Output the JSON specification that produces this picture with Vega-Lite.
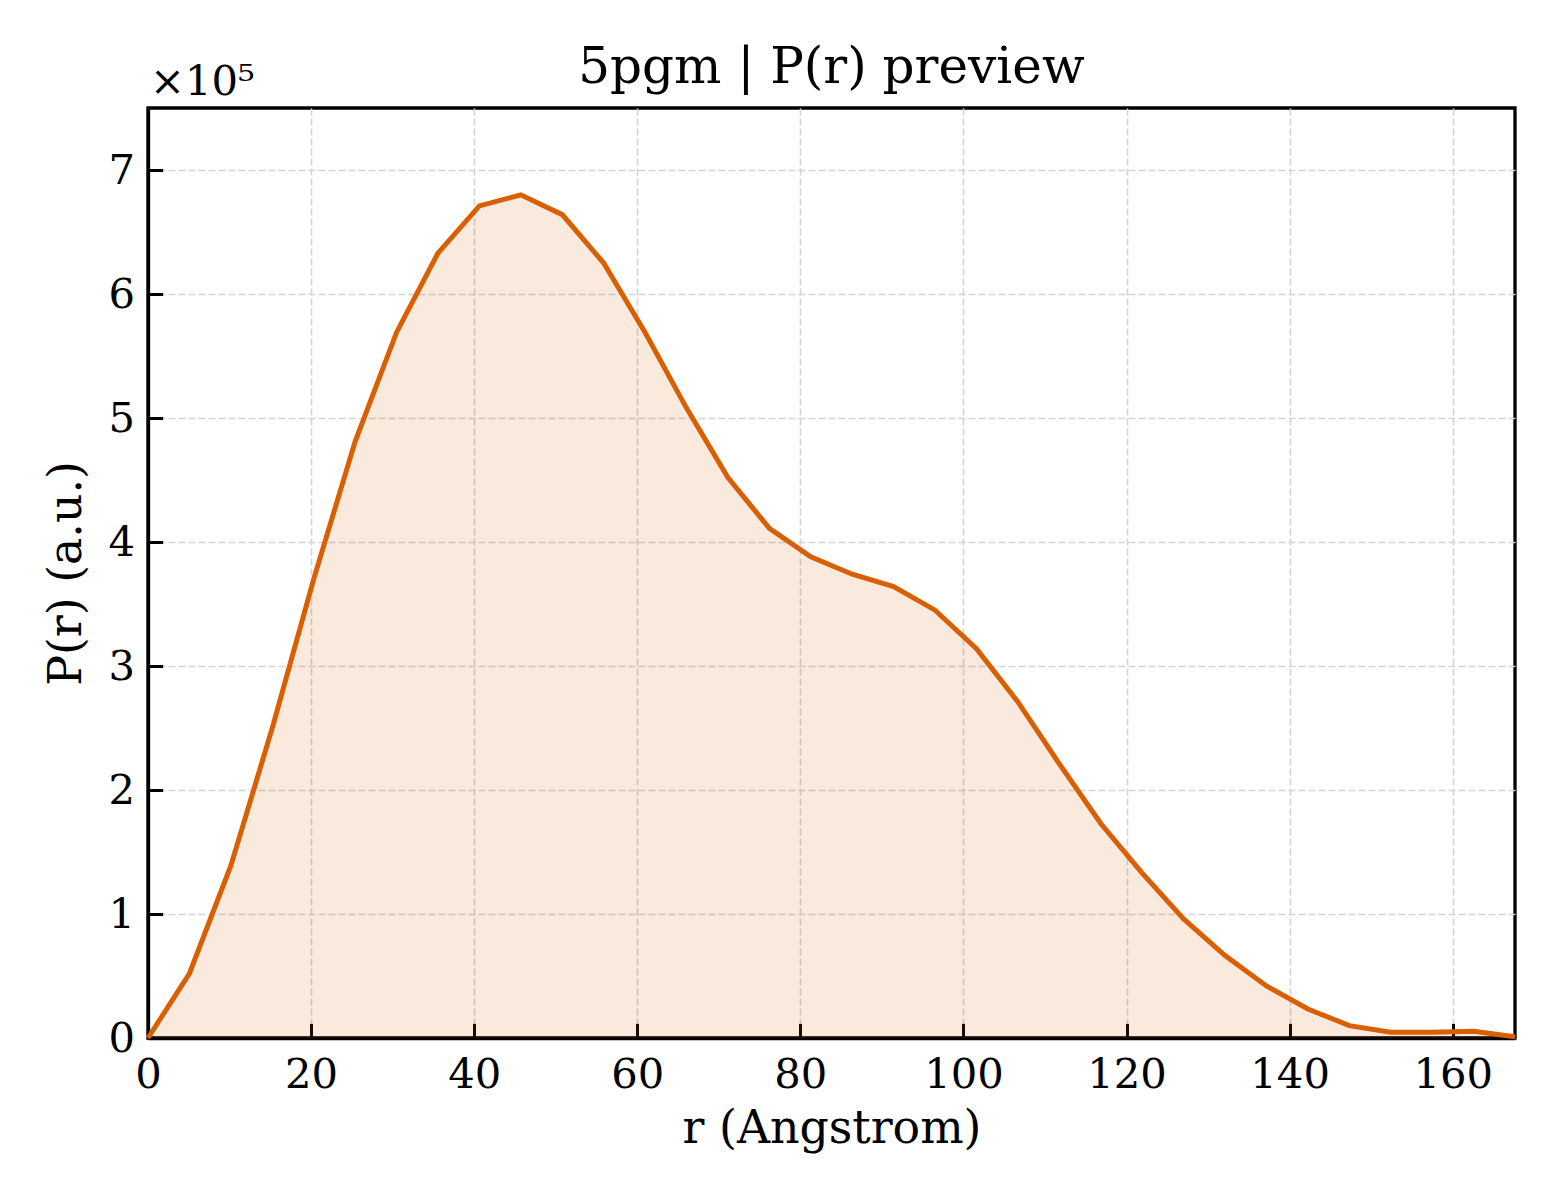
{
  "$schema": "https://vega.github.io/schema/vega-lite/v6.json",
  "width": 1367,
  "height": 930,
  "autosize": {"type": "none"},
  "padding": {"left": 148, "top": 108, "right": 45, "bottom": 162},
  "background": "white",
  "title": {
    "text": "5pgm | P(r) preview",
    "font": "DejaVu Serif",
    "fontSize": 50,
    "fontWeight": "normal",
    "color": "black",
    "anchor": "middle",
    "offset": -31
  },
  "config": {
    "view": {"stroke": "black", "strokeWidth": 3.3},
    "axis": {
      "labelFont": "DejaVu Serif",
      "titleFont": "DejaVu Serif",
      "labelFontSize": 41.7,
      "titleFontSize": 45.8,
      "labelColor": "black",
      "titleColor": "black",
      "titleFontWeight": "normal",
      "domainColor": "black",
      "domainWidth": 3.3,
      "tickColor": "black",
      "tickWidth": 3,
      "tickSize": -14.6,
      "grid": true,
      "gridColor": "#d4d4d4",
      "gridWidth": 1.6,
      "gridDash": [7, 3]
    }
  },
  "datasets": {
    "pr": [
      {"r": 0, "p": 0},
      {"r": 5.08, "p": 52000},
      {"r": 10.16, "p": 139000},
      {"r": 15.24, "p": 250000},
      {"r": 20.32, "p": 370000},
      {"r": 25.4, "p": 481000},
      {"r": 30.48, "p": 569000},
      {"r": 35.56, "p": 633000},
      {"r": 40.64, "p": 671000},
      {"r": 45.72, "p": 680000},
      {"r": 50.8, "p": 664000},
      {"r": 55.88, "p": 625000},
      {"r": 60.96, "p": 569000},
      {"r": 66.04, "p": 508000},
      {"r": 71.12, "p": 452000},
      {"r": 76.2, "p": 411000},
      {"r": 81.28, "p": 388000},
      {"r": 86.36, "p": 374000},
      {"r": 91.44, "p": 364000},
      {"r": 96.52, "p": 345000},
      {"r": 101.6, "p": 314000},
      {"r": 106.68, "p": 271000},
      {"r": 111.76, "p": 221000},
      {"r": 116.84, "p": 173000},
      {"r": 121.92, "p": 133000},
      {"r": 127.0, "p": 96000},
      {"r": 132.08, "p": 66500},
      {"r": 137.16, "p": 42000},
      {"r": 142.24, "p": 23400},
      {"r": 147.32, "p": 10000},
      {"r": 152.4, "p": 4600},
      {"r": 157.48, "p": 4600},
      {"r": 162.56, "p": 5400},
      {"r": 167.64, "p": 1000}
    ]
  },
  "layer": [
    {
      "data": {"name": "pr"},
      "mark": {"type": "area", "color": "#d95f02", "opacity": 0.13},
      "encoding": {
        "x": {
          "field": "r", "type": "quantitative",
          "scale": {"domain": [0, 167.64], "nice": false, "zero": false},
          "axis": {"title": "r (Angstrom)", "values": [0, 20, 40, 60, 80, 100, 120, 140, 160], "labelPadding": 31, "titlePadding": 10, "labelFlush": false}
        },
        "y": {
          "field": "p", "type": "quantitative",
          "scale": {"domain": [0, 750000], "nice": false},
          "axis": {"title": "P(r) (a.u.)", "values": [0, 100000, 200000, 300000, 400000, 500000, 600000, 700000], "labelExpr": "format(datum.value / 100000, 'd')", "labelPadding": 28, "titlePadding": 18, "labelFlush": false}
        }
      }
    },
    {
      "data": {"name": "pr"},
      "mark": {"type": "line", "color": "#d95f02", "strokeWidth": 5},
      "encoding": {
        "x": {"field": "r", "type": "quantitative"},
        "y": {"field": "p", "type": "quantitative"}
      }
    },
    {
      "data": {"values": [{"label": "×10⁵"}]},
      "mark": {"type": "text", "align": "left", "baseline": "alphabetic", "font": "DejaVu Serif", "fontSize": 41.7, "color": "black", "dx": 2, "dy": -13},
      "encoding": {
        "x": {"datum": 0, "type": "quantitative"},
        "y": {"datum": 750000, "type": "quantitative"},
        "text": {"field": "label"}
      }
    }
  ]
}
